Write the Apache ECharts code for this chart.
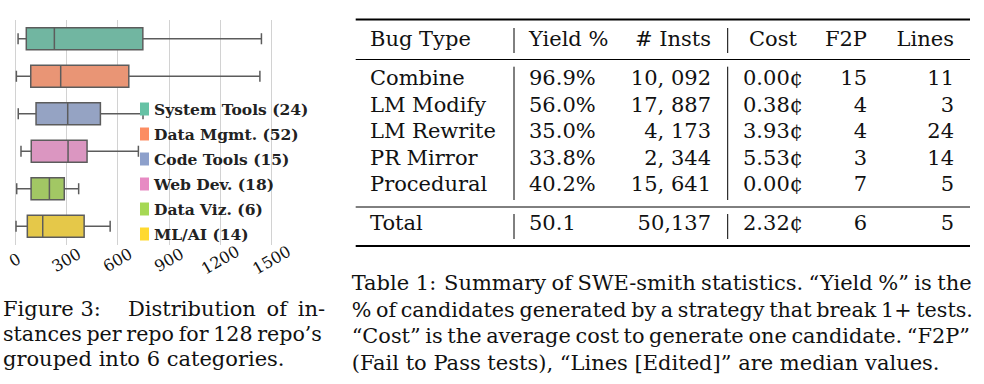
<!DOCTYPE html>
<html>
<head>
<meta charset="utf-8">
<script src="https://cdn.jsdelivr.net/npm/echarts@6/dist/echarts.min.js"></script>
<style>
html,body{margin:0;padding:0;background:#fff;}
#chart{width:984px;height:384px;}
</style>
</head>
<body>
<div id="chart"></div>
<script>
// ---- Box plot data (instances per repo) ----
const categories = ['System Tools (24)', 'Data Mgmt. (52)', 'Code Tools (15)', 'Web Dev. (18)', 'Data Viz. (6)', 'ML/AI (14)'];
const whiskerLow  = [18, 8, 19, 35, 10, 6];
const q1          = [66, 92, 123, 95, 94, 72];
const median      = [230, 267, 308, 310, 201, 162];
const q3          = [747, 665, 499, 421, 288, 404];
const whiskerHigh = [1440, 1431, 748, 721, 372, 556];
const xTickMin = 0, xTickMax = 1500, xTickStep = 300;

// ---- Table data ----
const tableHeaders = ['Bug Type', 'Yield %', '# Insts', 'Cost', 'F2P', 'Lines'];
const bugTypes = ['Combine', 'LM Modify', 'LM Rewrite', 'PR Mirror', 'Procedural'];
const yields   = ['96.9%', '56.0%', '35.0%', '33.8%', '40.2%'];
const insts    = ['10, 092', '17, 887', '4, 173', '2, 344', '15, 641'];
const costs    = ['0.00¢', '0.38¢', '3.93¢', '5.53¢', '0.00¢'];
const f2p      = ['15', '4', '4', '3', '7'];
const linesEdited = ['11', '3', '24', '14', '5'];
const totalRow = ['Total', '50.1', '50,137', '2.32¢', '6', '5'];

// ---- Captions ----
const figCaptionLabel = 'Figure 3:';
const figCaptionLines = ['Distribution of in-', 'stances per repo for 128 repo’s', 'grouped into 6 categories.'];
const tableCaptionLabel = 'Table 1:';
const tableCaptionLines = [
  'Summary of SWE-smith statistics. “Yield %” is the',
  '% of candidates generated by a strategy that break 1+ tests.',
  '“Cost” is the average cost to generate one candidate. “F2P”',
  '(Fail to Pass tests), “Lines [Edited]” are median values.'
];

// ---- styling ----
const legendColors = ['#66c2a5', '#fc8d62', '#8da0cb', '#e78ac3', '#a6d854', '#ffd92f'];
const boxColors    = ['#71b6a1', '#e99575', '#95a3c3', '#db96c1', '#a2c764', '#e5c849'];
const edgeColor = '#5c5c5c';
const SERIF = '"DejaVu Serif"';
const FS = 21;
const FONT = FS + 'px ' + SERIF;
const TXT = '#111';

const mctx = document.createElement('canvas').getContext('2d');
function measure(t, font) { mctx.font = font; return mctx.measureText(t).width; }
const MID = 0.36 * FS;

function textEl(t, x, baseline, align, sx) {
  return { type: 'text', x: x, y: baseline - MID, scaleX: sx || 1, silent: true,
    style: { text: t, font: FONT, fill: TXT, align: align || 'left', verticalAlign: 'middle' } };
}
function lineEl(x1, y1, x2, y2, w) {
  return { type: 'line', silent: true, shape: { x1: x1, y1: y1, x2: x2, y2: y2 },
    style: { stroke: '#000', lineWidth: w } };
}
function justified(t, x0, x1, baseline, justify) {
  if (!justify) return [textEl(t, x0, baseline, 'left')];
  const words = t.split(' ');
  let widths = words.map(w => measure(w, FONT));
  let total = widths.reduce((a, b) => a + b, 0);
  const minGap = 0.22 * FS;
  let sx = 1;
  if ((x1 - x0 - total) / (words.length - 1) < minGap) {
    sx = (x1 - x0 - minGap * (words.length - 1)) / total;
    widths = widths.map(w => w * sx);
    total = total * sx;
  }
  const gap = (x1 - x0 - total) / (words.length - 1);
  const out = [];
  let x = x0;
  words.forEach((w, i) => { out.push(textEl(w, x, baseline, 'left', sx)); x += widths[i] + gap; });
  return out;
}

const graphics = [];
// table rules
const tL = 355.7, tR = 970;
graphics.push(lineEl(tL, 19.5, tR, 19.5, 2));
graphics.push(lineEl(tL, 59.5, tR, 59.5, 1.2));
graphics.push(lineEl(tL, 207, tR, 207, 1));
graphics.push(lineEl(tL, 246, tR, 246, 2));
// vertical separators
[514, 727.7].forEach(x => {
  graphics.push(lineEl(x, 28, x, 53, 1));
  graphics.push(lineEl(x, 66.7, x, 200, 1));
  graphics.push(lineEl(x, 214, x, 239, 1));
});
// column anchors
const colX = [370, 529, 711, 743, 867, 954];
const colAlign = ['left', 'left', 'right', 'left', 'right', 'right'];
const headerX = [370, 529, 711, 749, 867, 954];
const headerBase = 46.7;
tableHeaders.forEach((h, i) => graphics.push(textEl(h, headerX[i], headerBase, colAlign[i])));
const rowBase = [86, 112.3, 138.7, 165.2, 191.7];
const cols = [bugTypes, yields, insts, costs, f2p, linesEdited];
bugTypes.forEach((_, r) => {
  cols.forEach((col, c) => graphics.push(textEl(col[r], colX[c], rowBase[r], colAlign[c])));
});
totalRow.forEach((v, c) => graphics.push(textEl(v, colX[c], 230.7, colAlign[c])));

// figure caption
graphics.push(textEl(figCaptionLabel, 3, 316.7, 'left'));
graphics.push(...justified(figCaptionLines[0], 128, 325, 316.7, true));
graphics.push(...justified(figCaptionLines[1], 3, 322, 341.7, true));
graphics.push(...justified(figCaptionLines[2], 3, 322, 366.7, false));
// table caption
graphics.push(textEl(tableCaptionLabel, 351.7, 291, 'left'));
graphics.push(...justified(tableCaptionLines[0], 444, 971.7, 291, true));
graphics.push(...justified(tableCaptionLines[1], 351.7, 973, 317.5, true));
graphics.push(...justified(tableCaptionLines[2], 351.7, 970, 344, true));
graphics.push(...justified(tableCaptionLines[3], 351.7, 970, 370.5, false));

function renderBox(params, api) {
  const ci = api.value(0);
  const pLow = api.coord([api.value(1), ci]);
  const pQ1 = api.coord([api.value(2), ci]);
  const pMed = api.coord([api.value(3), ci]);
  const pQ3 = api.coord([api.value(4), ci]);
  const pHigh = api.coord([api.value(5), ci]);
  const band = api.size([0, 1])[1];
  const h = band * 0.59;
  const cap = h * 0.5;
  const y = pMed[1];
  const ls = { stroke: edgeColor, lineWidth: 1.5 };
  return {
    type: 'group',
    children: [
      { type: 'line', shape: { x1: pLow[0], y1: y, x2: pQ1[0], y2: y }, style: ls },
      { type: 'line', shape: { x1: pQ3[0], y1: y, x2: pHigh[0], y2: y }, style: ls },
      { type: 'line', shape: { x1: pLow[0], y1: y - cap / 2, x2: pLow[0], y2: y + cap / 2 }, style: ls },
      { type: 'line', shape: { x1: pHigh[0], y1: y - cap / 2, x2: pHigh[0], y2: y + cap / 2 }, style: ls },
      { type: 'rect', shape: { x: pQ1[0], y: y - h / 2, width: pQ3[0] - pQ1[0], height: h },
        style: { fill: boxColors[ci], stroke: edgeColor, lineWidth: 1.5 } },
      { type: 'line', shape: { x1: pMed[0], y1: y - h / 2, x2: pMed[0], y2: y + h / 2 }, style: ls }
    ]
  };
}

const series = categories.map((name, i) => ({
  type: 'custom',
  name: name,
  renderItem: renderBox,
  itemStyle: { color: legendColors[i] },
  encode: { x: [1, 2, 3, 4, 5], y: 0 },
  data: [[i, whiskerLow[i], q1[i], median[i], q3[i], whiskerHigh[i]]],
  z: 2
}));

const chart = echarts.init(document.getElementById('chart'), null, { renderer: 'svg', width: 984, height: 384 });
chart.setOption({
  animation: false,
  backgroundColor: '#fff',
  grid: { left: 15, right: 984 - 271.7, top: 20, bottom: 384 - 245, containLabel: false },
  xAxis: {
    type: 'value', min: xTickMin, max: xTickMax, interval: xTickStep,
    axisLine: { show: false }, axisTick: { show: false },
    splitLine: { show: true, lineStyle: { color: '#d2d2d2', width: 1 } },
    axisLabel: { rotate: 30, align: 'center', verticalAlign: 'middle', margin: 15,
      fontFamily: SERIF, fontSize: 16, color: TXT, formatter: v => String(v) }
  },
  yAxis: {
    type: 'category', data: categories, inverse: true,
    axisLine: { show: false }, axisTick: { show: false }, axisLabel: { show: false },
    splitLine: { show: false }
  },
  legend: {
    orient: 'vertical', left: 140, top: 101, itemWidth: 9, itemHeight: 13, itemGap: 9,
    itemTextGap: 6, icon: 'rect', selectedMode: false, padding: 0,
    textStyle: { fontFamily: SERIF, fontWeight: 'bold', fontSize: 15.5, lineHeight: 13, color: '#222' },
    data: categories
  },
  graphic: graphics,
  series: series
});
</script>
</body>
</html>
